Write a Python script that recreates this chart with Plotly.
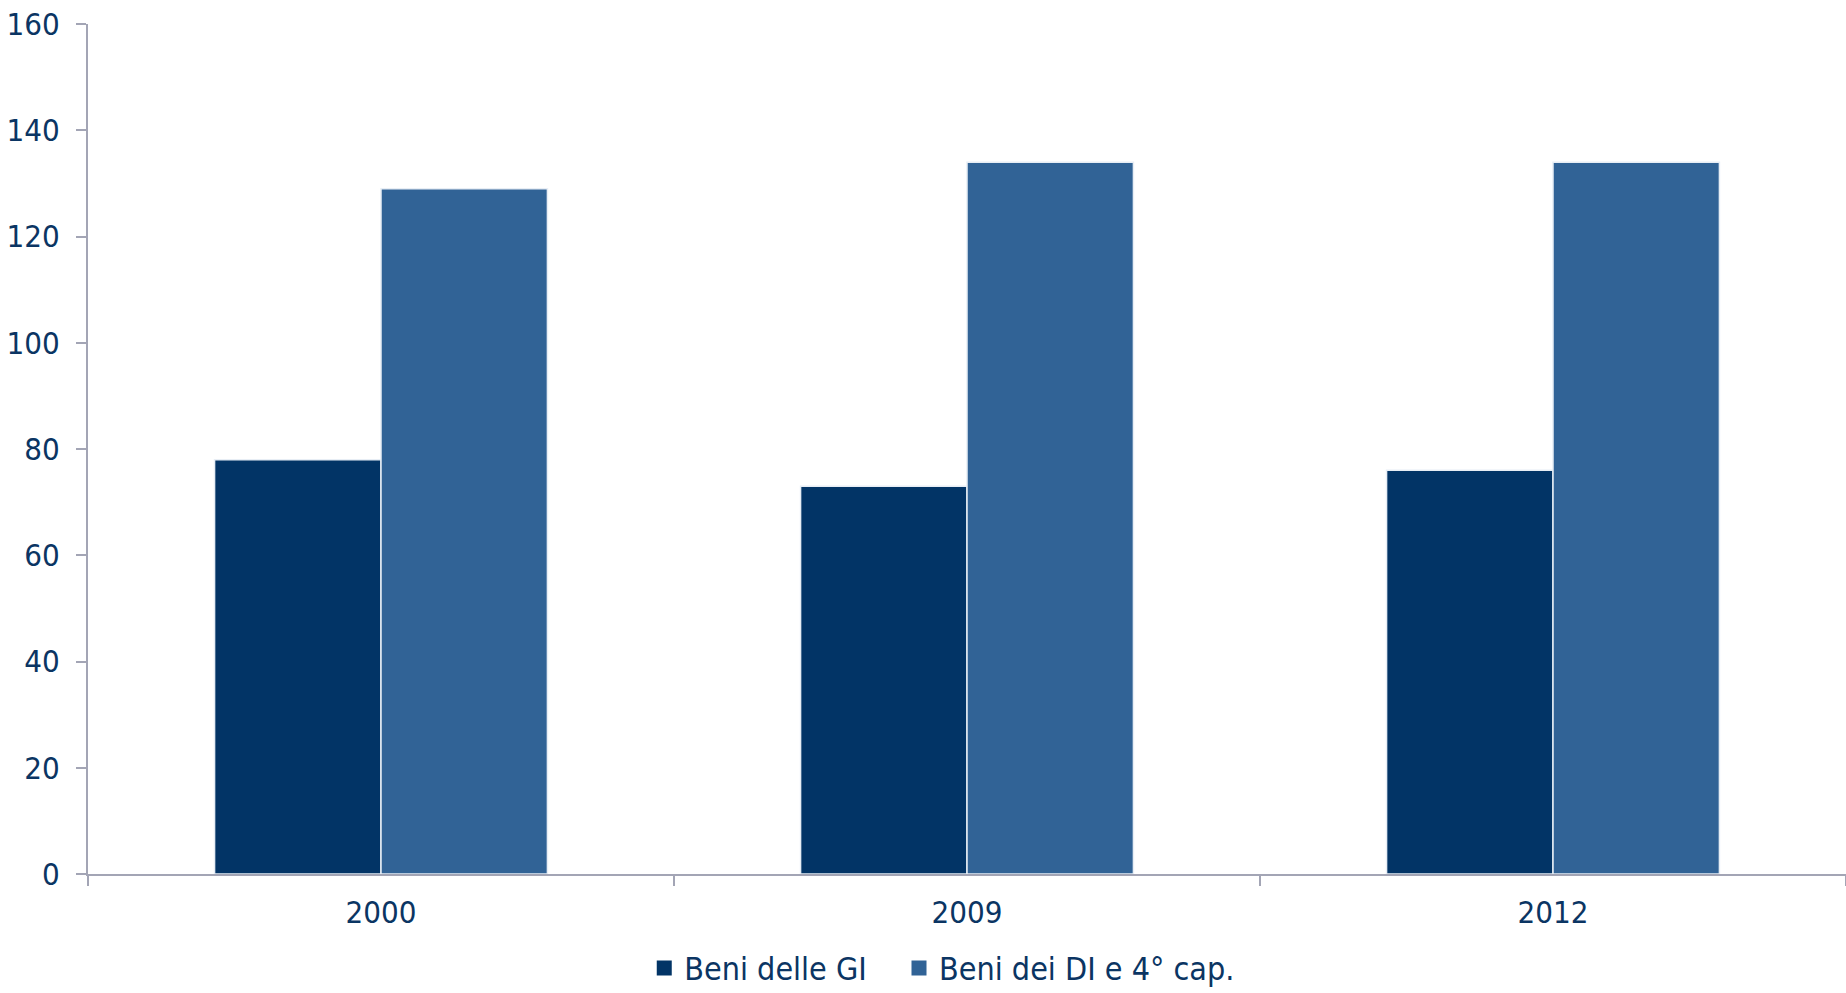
import plotly.graph_objects as go

categories = ["2000", "2009", "2012"]
beni_gi = [78, 73, 76]
beni_di = [129, 134, 134]
series_names = ["Beni delle GI", "Beni dei DI e 4° cap."]
series_colors = ["#023466", "#316396"]
y_ticks = [0, 20, 40, 60, 80, 100, 120, 140, 160]

text_color = "#0B3563"
axis_color = "#A3A5B5"
font_family = "DejaVu Sans Condensed, DejaVu Sans, sans-serif"

fig = go.Figure()
for vals, name, col in zip([beni_gi, beni_di], series_names, series_colors):
    fig.add_trace(go.Bar(x=categories, y=vals, name=name, showlegend=False,
                         marker=dict(color=col, line=dict(color="#E8EEF5", width=1.5))))
# legend entries with larger square symbols, one legend each
for i, (name, col) in enumerate(zip(series_names, series_colors)):
    fig.add_trace(go.Scatter(x=[None], y=[None], mode="markers", name=name,
                             legend="legend" if i == 0 else "legend2",
                             marker=dict(symbol="square", size=15, color=col)))

leg_common = dict(orientation="h", xanchor="left", xref="container",
                  y=0.025, yanchor="middle", yref="container",
                  font=dict(size=32, color=text_color), itemwidth=30,
                  bgcolor="rgba(0,0,0,0)")

fig.update_layout(
    width=1846, height=993,
    margin=dict(l=88, r=0, t=24, b=119),
    plot_bgcolor="white", paper_bgcolor="white",
    barmode="group", bargap=0.432, bargroupgap=0.0,
    font=dict(family=font_family, size=31, color=text_color),
    legend=dict(x=0.349, **leg_common),
    legend2=dict(x=0.487, **leg_common),
    showlegend=True,
)
fig.update_xaxes(showline=True, linecolor=axis_color, linewidth=2, automargin=False,
                 ticks="outside", ticklen=10, tickcolor=axis_color, tickwidth=2,
                 tickson="boundaries", showgrid=False, zeroline=False,
                 ticklabelstandoff=10,
                 tickfont=dict(size=31, color=text_color))
fig.update_yaxes(range=[0, 160], tickvals=y_ticks, showline=True, linecolor=axis_color, linewidth=2,
                 ticks="outside", ticklen=10, tickcolor=axis_color, tickwidth=2, automargin=False,
                 ticklabelstandoff=10,
                 showgrid=False, zeroline=False, tickfont=dict(size=31, color=text_color))

fig.write_html("out.html")
